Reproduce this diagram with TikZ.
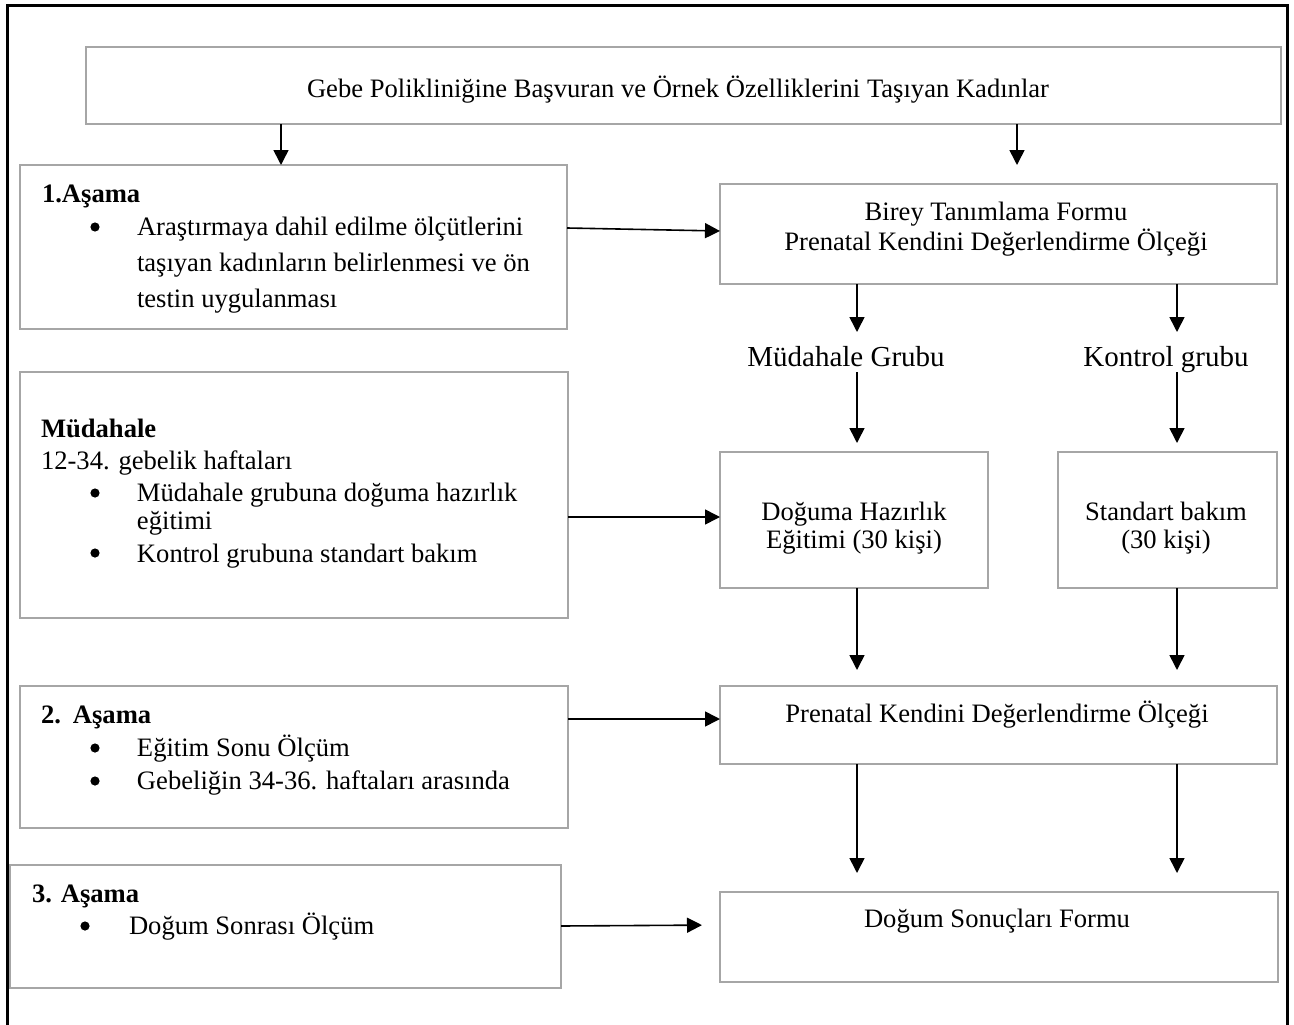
\documentclass[tikz,border=0pt]{standalone}
\usepackage{fontspec}
\setmainfont{Liberation Serif}
\usetikzlibrary{arrows.meta,calc}
\definecolor{boxgray}{HTML}{A6A6A6}
\newcommand\tline[2]{\baselineskip=#1pt\relax\hbox{#2}}
\newcommand\bitem[2]{\hskip #1pt #2}
\newcommand\clines[2]{\vtop{\baselineskip=#1pt\lineskiplimit=-1000pt\relax\halign{\hfil##\hfil\cr#2\crcr}}}
\tikzset{
  box/.style={draw=boxgray, line width=2.5pt, inner sep=0pt, outer sep=0pt, rectangle},
  txt/.style={inner sep=0pt, outer sep=0pt, font=\fontsize{26.6}{30}\selectfont},
  lab/.style={inner sep=0pt, outer sep=0pt, font=\fontsize{29}{33}\selectfont, text height=34pt, text depth=6pt},
  arr/.style={line width=1.6pt, -{Triangle[width=15pt,length=15pt]}},
  bulletdot/.style={fill=black},
  frame/.style={line width=3pt, black}
}
\begin{document}
\begin{tikzpicture}[x=1pt,y=-1pt]
\useasboundingbox (0,0) rectangle (1294,1025);
\fill[white] (0,0) rectangle (1294,1025);
\draw[frame] (7.5,1026) -- (7.5,6) -- (1287,6) -- (1287,1026);

% column coordinates
\coordinate (colA) at (281,0);
\coordinate (colB) at (1017,0);
\coordinate (colL) at (857,0);
\coordinate (colR) at (1177,0);

% boxes
\node[box, minimum width=1195pt, minimum height=77pt] (top) at (683.5,85.5) {};
\node[box, minimum width=547pt, minimum height=164pt] (a1) at (293.5,247) {};
\node[box, minimum width=557pt, minimum height=100pt] (birey) at (998.5,234) {};
\node[box, minimum width=548pt, minimum height=246pt] (mud) at (294,495) {};
\node[box, minimum width=268pt, minimum height=136pt] (dog) at (854,520) {};
\node[box, minimum width=219pt, minimum height=136pt] (std) at (1167.5,520) {};
\node[box, minimum width=548pt, minimum height=142pt] (a2) at (294,757) {};
\node[box, minimum width=557pt, minimum height=78pt] (pk) at (998.5,725) {};
\node[box, minimum width=551pt, minimum height=123pt] (a3) at (285.5,926.5) {};
\node[box, minimum width=558pt, minimum height=90pt] (ds) at (999,937) {};

% texts
\node[txt, anchor=base] (topT) at (678,97) {Gebe Polikliniğine Başvuran ve Örnek Özelliklerini Taşıyan Kadınlar};

\node[txt, anchor=base west] (a1T) at (42,202) {\vtop{\lineskiplimit=-1000pt\relax
  \tline{0}{\textbf{1.Aşama}}
  \tline{33}{\bitem{95}{Araştırmaya dahil edilme ölçütlerini}}
  \tline{36}{\hskip95pt taşıyan kadınların belirlenmesi ve ön}
  \tline{36}{\hskip95pt testin uygulanması}}};

\node[txt, anchor=base west] (mudT) at (41,437) {\vtop{\lineskiplimit=-1000pt\relax
  \tline{0}{\textbf{Müdahale}}
  \tline{32}{12-34. gebelik haftaları}
  \tline{32}{\bitem{96}{Müdahale grubuna doğuma hazırlık}}
  \tline{28}{\hskip96pt eğitimi}
  \tline{33}{\bitem{96}{Kontrol grubuna standart bakım}}}};

\node[txt, anchor=base west] (a2T) at (41,723) {\vtop{\lineskiplimit=-1000pt\relax
  \tline{0}{\textbf{2.\hskip12pt Aşama}}
  \tline{33}{\bitem{96}{Eğitim Sonu Ölçüm}}
  \tline{33}{\bitem{96}{Gebeliğin 34-36. haftaları arasında}}}};

\node[txt, anchor=base west] (a3T) at (32,902) {\vtop{\lineskiplimit=-1000pt\relax
  \tline{0}{\textbf{3. Aşama}}
  \tline{32}{\bitem{97}{Doğum Sonrası Ölçüm}}}};

% bullets
\foreach \bx/\by in {95/227, 95/493, 95/553, 95/748, 95/781, 85/926}
  \fill[bulletdot] (\bx,\by) circle (4.6);

\node[txt, anchor=base] (bireyT) at (996,220) {\clines{30}{Birey Tanımlama Formu\cr Prenatal Kendini Değerlendirme Ölçeği}};
\node[lab, anchor=base] (labM) at (846,366) {Müdahale Grubu};
\node[lab, anchor=base] (labK) at (1166,366) {Kontrol grubu};
\node[txt, anchor=base] (dogT) at (854,520) {\clines{28}{Doğuma Hazırlık\cr Eğitimi (30 kişi)}};
\node[txt, anchor=base] (stdT) at (1166,520) {\clines{28}{Standart bakım\cr (30 kişi)}};
\node[txt, anchor=base] (pkT) at (997,722) {Prenatal Kendini Değerlendirme Ölçeği};
\node[txt, anchor=base] (dsT) at (997,927) {Doğum Sonuçları Formu};

% connectors
\draw[arr] (top.south -| colA) -- (a1.north -| colA);
\draw[arr, shorten >=19pt] (top.south -| colB) -- (birey.north -| colB);
\draw[arr] ($(birey.west -| a1.east)+(0,-6)$) -- ($(birey.west)+(0,-3)$);
\draw[arr] (birey.south -| colL) -- (labM.north -| colL);
\draw[arr] (birey.south -| colR) -- (labK.north -| colR);
\draw[arr, shorten >=9pt] (labM.south -| colL) -- (dog.north -| colL);
\draw[arr, shorten >=9pt] (labK.south -| colR) -- (std.north -| colR);
\draw[arr] ($(dog.west -| mud.east)+(0,-3)$) -- ($(dog.west)+(0,-3)$);
\draw[arr, shorten >=16pt] (dog.south -| colL) -- (pk.north -| colL);
\draw[arr, shorten >=16pt] (std.south -| colR) -- (pk.north -| colR);
\draw[arr] ($(pk.west -| a2.east)+(0,-6)$) -- ($(pk.west)+(0,-6)$);
\draw[arr, shorten >=19pt] (pk.south -| colL) -- (ds.north -| colL);
\draw[arr, shorten >=19pt] (pk.south -| colR) -- (ds.north -| colR);
\draw[arr, shorten >=18pt] ($(ds.west -| a3.east)+(0,-11)$) -- ($(ds.west)+(0,-12)$);
\end{tikzpicture}
\end{document}
